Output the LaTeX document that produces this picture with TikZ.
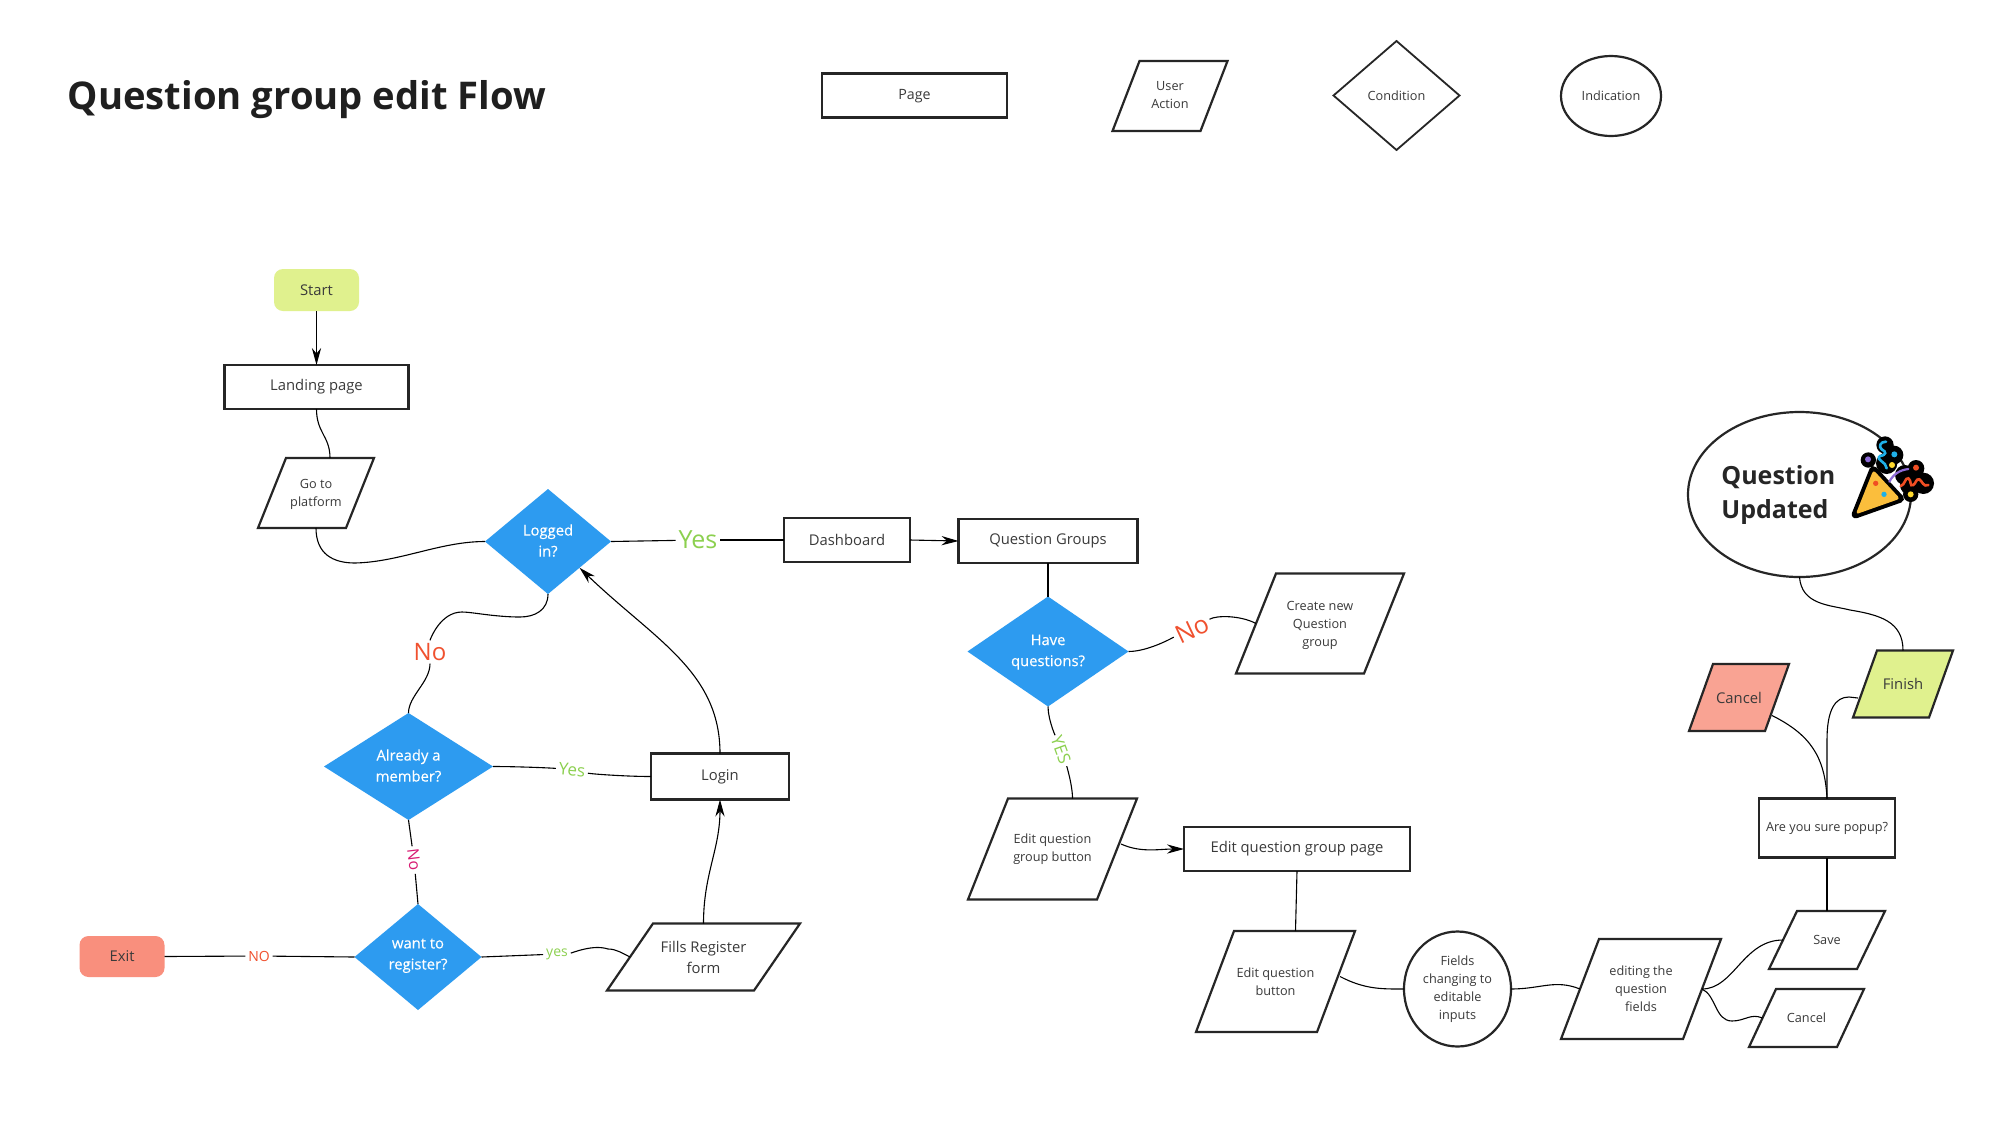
\documentclass[tikz,border=0pt]{standalone}
\usepackage{fontspec}
\setmainfont{Open Sans}
\newfontfamily\semif[FakeBold=0.25]{Open Sans}
\usetikzlibrary{shapes.geometric,arrows.meta,calc}
\definecolor{txtc}{HTML}{3A3A3A}
\definecolor{blu}{HTML}{2D9BF0}
\definecolor{lime}{HTML}{E0F18E}
\definecolor{salm}{HTML}{F98F7D}
\definecolor{salm2}{HTML}{F9A393}
\definecolor{grn}{HTML}{8CD04F}
\definecolor{redl}{HTML}{F0512F}
\definecolor{pink}{HTML}{D81B72}
\definecolor{popy}{HTML}{FBBE3C}
\definecolor{popc}{HTML}{1FB0E8}
\definecolor{popr}{HTML}{F04E23}
\definecolor{popv}{HTML}{8E6BD8}
\definecolor{popd}{HTML}{FFD92E}
\newcommand{\fsz}[1]{\fontsize{#1}{#1}\selectfont}
\tikzset{
  base/.style={text=txtc,align=center,inner sep=0pt,outer sep=0pt},
  small/.style={font=\fontsize{6.35}{9}\selectfont},
  med/.style={font=\fontsize{7.4}{10.5}\selectfont},
  pagebox/.style={base,med,draw=black!85,line width=1.1pt,fill=white},
  ind/.style={base,small,draw=black!85,line width=1.1pt,ellipse,fill=white},
  cond/.style={base,diamond,fill=blu},
  condt/.style={base,text=white,font=\semif\fontsize{7.4}{10.5}\selectfont},
  term/.style={base,med,rounded corners=4.5pt},
  paraline/.style={draw=black!85,line width=1.1pt,fill=white,line join=miter},
  conn/.style={draw=black,line width=0.55pt},
  arr/.style={conn,-{Stealth[length=8.5pt,width=4.6pt]}},
  lbl/.style={inner sep=1.5pt,outer sep=0pt,align=center},
}
% name, cx, cy, W, H, slant, polygon options, text options, text
\newcommand{\para}[9]{%
  \node[minimum width=#4*0.5pt,minimum height=#5*0.5pt,inner sep=0pt,outer sep=0pt] (#1) at (#2,#3) {};
  \draw[paraline,#7] ($(#1.north west)+(#6*0.5pt,0pt)$) -- (#1.north east)
     -- ($(#1.south east)-(#6*0.5pt,0pt)$) -- (#1.south west) -- cycle;
  \coordinate (#1-e) at ($(#1.east)-(#6*0.25pt,0pt)$);
  \coordinate (#1-w) at ($(#1.west)+(#6*0.25pt,0pt)$);
  \node[base,#8] (#1-t) at (#1) {#9};
}
\begin{document}
\begin{tikzpicture}[x=0.5pt,y=-0.5pt]
\useasboundingbox (0,0) rectangle (2008,1120);
\fill[white] (0,0) rectangle (2008,1120);

% title
\node[anchor=west,inner sep=0pt,text=black!88,font=\bfseries\fontsize{19.1}{22}\selectfont] (title) at (67.5,100) {Question group edit Flow};

% legend
\node[pagebox,font=\fontsize{7.1}{9}\selectfont,minimum width=92.5pt,minimum height=22pt,text depth=0.6pt] (lpage) at (914.5,95.5) {Page};
\para{luser}{1170}{96}{115}{70}{27}{}{small,yshift=0.4pt}{User\\Action}
\node[base,small,diamond,draw=black!85,line width=0.9pt,minimum width=63pt,minimum height=54.5pt] (lcond) at (1396.5,95.5) {Condition};
\node[ind,minimum width=50pt,minimum height=40pt] (lind) at (1611,96) {Indication};

% left column nodes
\node[term,fill=lime,minimum width=42.5pt,minimum height=21pt] (start) at (316.5,290) {Start};
\node[pagebox,minimum width=92pt,minimum height=22pt] (land) at (316.5,387) {Landing page};
\para{go}{316}{493}{116}{70}{28}{}{small,yshift=-0.75pt}{Go to\\platform}
\node[cond,minimum width=63pt,minimum height=52.5pt] (logged) at (548,541.5) {};
\node[condt] (logged-t) at ([yshift=0.5pt]logged.center) {Logged\\in?};
\node[pagebox,minimum width=63pt,minimum height=22pt] (dash) at (847,540) {Dashboard};
\node[pagebox,minimum width=89.5pt,minimum height=22pt] (qg) at (1048,541) {Question Groups};
\node[cond,minimum width=80.5pt,minimum height=55pt] (have) at (1048,651.5) {};
\node[condt] (have-t) at ([yshift=-0.3pt]have.center) {Have\\questions?};
\para{create}{1320}{623.5}{168}{100}{40}{}{small,yshift=-1pt}{Create new\\Question\\group}
\para{egb}{1052.5}{849}{169}{101}{40}{}{small,yshift=-0.3pt}{Edit question\\group button}
\node[pagebox,minimum width=113pt,minimum height=22pt] (egp) at (1297,849) {Edit question group page};
\para{eb}{1275.5}{981.5}{159}{101}{38}{}{small}{Edit question\\button}
\node[ind,minimum width=53.5pt,minimum height=57.5pt] (fields) at (1457.5,989) {Fields\\changing to\\editable\\inputs};
\para{editing}{1641}{989}{160}{100}{38}{}{small}{editing the\\question\\fields}
\para{save}{1827}{940}{116}{58}{28}{}{small}{Save}
\para{cancelb}{1806.5}{1018}{115}{58}{27}{}{small}{Cancel}
\node[pagebox,small,minimum width=68pt,minimum height=29.5pt] (sure) at (1827,828) {Are you sure popup?};
\para{cancelr}{1739}{697.5}{100}{67}{24}{fill=salm2}{med}{Cancel}
\para{finish}{1903}{684}{100}{67}{24}{fill=lime}{med}{Finish}
\node[base,draw=black!85,line width=1.1pt,ellipse,minimum width=111.5pt,minimum height=82.5pt,fill=white] (done) at (1799.5,494.5) {};
\node[anchor=west,align=left,inner sep=0pt,text=black!85,font=\bfseries\fontsize{12.5}{17.3}\selectfont,text width=70pt] (donet) at (1721,495) {Question\\Updated};

\node[cond,minimum width=84.5pt,minimum height=53.5pt] (member) at (408.5,766.5) {};
\node[condt] (member-t) at ([yshift=0.5pt]member.center) {Already a\\member?};
\node[pagebox,minimum width=69pt,minimum height=23pt] (login) at (720,776.5) {Login};
\node[cond,minimum width=63.5pt,minimum height=53pt] (want) at (418,957) {};
\node[condt] (want-t) at ([yshift=0.6pt]want.center) {want to\\register?};
\node[term,fill=salm,minimum width=42.5pt,minimum height=20.5pt] (exit) at (122,956.5) {Exit};
\para{fills}{703.5}{957}{193}{67}{46}{}{med}{Fills Register\\form}

% connector labels
\node[lbl,text=grn,font=\fsz{12.5}] (yes1) at (698,540) {Yes};
\node[lbl,text=redl,font=\fsz{12.5},rotate=25] (no1) at (1192,629) {No};
\node[lbl,text=grn,font=\fsz{8.5},rotate=-70] (yes2) at (1061,750) {YES};
\node[lbl,text=redl,font=\fsz{12}] (no2) at (430,652) {No};
\node[lbl,text=grn,font=\fsz{8.5},rotate=-5] (yes3) at (572,770) {Yes};
\node[lbl,text=pink,font=\fsz{8},rotate=-83] (no3) at (414,860) {No};
\node[lbl,text=redl,font=\fsz{7}] (no4) at (259,956) {NO};
\node[lbl,text=grn,font=\fsz{7}] (yes4) at (557,954) {yes};

% connectors
\draw[arr] (start.south) -- (land.north);
\draw[conn] (land.south) .. controls +(0,24) and +(0,-22) .. ([xshift=7pt]go.north);
\draw[conn] (go.south) .. controls +(0,26) and +(-22,0) .. (355,563) .. controls +(45,-1) and +(-45,0) .. (logged.west);
\draw[conn] (logged.east) -- (yes1);
\draw[conn] (yes1) -- (dash.west);
\draw[arr] (dash.east) -- (qg.west);
\draw[conn] (qg.south) -- (have.north);
\draw[conn] (have.east) .. controls +(20,0) and +(-18,8) .. (no1);
\draw[conn] (no1) .. controls +(25,-14) and +(-15,-8) .. (create-w);
\draw[conn] (have.south) .. controls +(0,14) and +(-4,-10) .. (yes2);
\draw[conn] (yes2) .. controls +(5,14) and +(0,-14) .. ([xshift=10pt]egb.north);
\draw[arr] ([xshift=2pt,yshift=2.5pt]egb-e) .. controls +(20,9) and +(-25,0) .. (egp.west);
\draw[conn] (egp.south) -- ([xshift=10pt]eb.north);
\draw[conn] ([xshift=2pt,yshift=2.5pt]eb-e) .. controls +(25,13) and +(-22,0) .. (fields.west);
\draw[conn] (fields.east) .. controls +(30,0) and +(-25,-10) .. (editing-w);
\draw[conn] (editing-e) .. controls +(32,0) and +(-40,0) .. (save-w);
\draw[conn] (editing-e) .. controls +(14,6) and +(-17,0) .. (1732,1021) .. controls +(13,0) and +(-12,-5) .. (cancelb-w);
\draw[conn] (save.north) -- (sure.south);
\draw[conn] (sure.north) .. controls +(-2,-42) and +(38,19) .. ([xshift=-2.5pt,yshift=-9pt]cancelr-e);
\draw[conn] (sure.north) -- (1827,740) .. controls +(0,-30) and +(-14,0) .. (1849,697) .. controls +(4,0) and +(-4,-1) .. ([xshift=-3.5pt,yshift=-7pt]finish-w);
\draw[conn] (done.south) .. controls +(2,28) and +(-20,-5) .. (1850,610) .. controls +(30,5) and +(0,-29) .. (finish.north);
\draw[conn] (logged.south) .. controls +(0,16) and +(15,0) .. (520,617) .. controls +(-25,0) and +(10,0) .. (462,612) .. controls +(-22,0) and +(0,-12) .. (no2);
\draw[conn] (no2) .. controls +(0,30) and +(0,-17) .. (member.north);
\draw[conn] (member.east) .. controls +(25,0) and +(-20,-2) .. (yes3);
\draw[conn] (yes3) .. controls +(20,4) and +(-25,0) .. (login.west);
\draw[conn] (member.south) -- (no3);
\draw[conn] (no3) -- (want.north);
\draw[conn] (want.west) -- (no4);
\draw[conn] (no4) -- (exit.east);
\draw[conn] (want.east) -- (yes4);
\draw[conn] (yes4) .. controls +(15,-1) and +(-15,-5) .. (608,949) .. controls +(8,0) and +(-8,-4) .. (fills-w);
\draw[arr] (fills.north) .. controls +(0,-50) and +(0,50) .. (login.south);
\draw[arr] (login.north) .. controls +(0,-82) and +(75,72) .. (logged.south east);

% party popper
\begin{scope}[shift={(1660,400)},x=0.16667pt,y=-0.16667pt]
  \fill[black] (675,135) circle (26) (625,180) circle (23) (702,165) circle (28) (680,190) circle (32)
     (768,205) circle (25) (735,225) circle (30) (790,250) circle (32) (750,255) circle (30) (752,283) circle (23);
  \draw[black,fill=black,line width=4pt,line join=round] (587,343) -- (640,210) -- (720,296) -- cycle;
  \fill[popy,rounded corners=1.5pt] (587,343) -- (640,210) -- (720,296) -- cycle;
  \draw[popc,line width=1.3pt,line cap=round] (678,125) .. controls (660,125) and (655,140) .. (665,148) .. controls (680,155) and (680,165) .. (660,168) .. controls (645,180) and (680,185) .. (680,205);
  \fill[popc] (703,163) circle (9);
  \fill[popv] (624,178) circle (9);
  \fill[popd] (696,195) circle (9);
  \draw[popv,line width=1.1pt,line cap=round] (688,245) .. controls (700,222) and (720,210) .. (745,207);
  \fill[popr] (768,203) circle (9);
  \draw[popr,line width=1.3pt,line cap=round] (722,258) .. controls (735,255) and (735,232) .. (745,235) .. controls (755,240) and (748,262) .. (760,255) .. controls (768,250) and (768,235) .. (778,238) .. controls (788,245) and (790,262) .. (805,255);
  \fill[popd] (752,283) circle (9);
  \fill[popr] (647,250) circle (8);
  \fill[popc] (672,283) circle (8);
\end{scope}
\end{tikzpicture}
\end{document}
